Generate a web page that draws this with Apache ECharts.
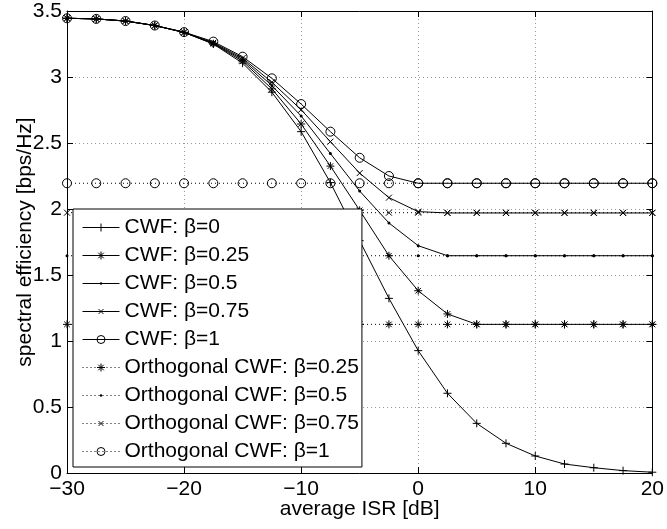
<!DOCTYPE html>
<html>
<head>
<meta charset="utf-8">
<script src="https://cdn.jsdelivr.net/npm/echarts@6/dist/echarts.min.js"></script>
<style>
  html, body { margin: 0; padding: 0; background: #fff; }
  #main { width: 667px; height: 529px; }
</style>
</head>
<body>
<div id="main"></div>
<script>
// average ISR [dB]
const isr = [-30, -27.5, -25, -22.5, -20, -17.5, -15, -12.5, -10, -7.5, -5, -2.5, 0, 2.5, 5, 7.5, 10, 12.5, 15, 17.5, 20]

// CWF curves
const cwf0 = [3.445, 3.44, 3.424, 3.39, 3.338, 3.25, 3.105, 2.885, 2.586, 2.2, 1.76, 1.323, 0.927, 0.604, 0.376, 0.225, 0.129, 0.068, 0.04, 0.018, 0.006]
const cwf25 = [3.445, 3.44, 3.424, 3.39, 3.338, 3.252, 3.12, 2.91, 2.644, 2.325, 1.99, 1.646, 1.381, 1.205, 1.126, 1.126, 1.126, 1.126, 1.126, 1.126, 1.126]
const cwf50 = [3.445, 3.44, 3.424, 3.39, 3.338, 3.255, 3.132, 2.935, 2.705, 2.42, 2.136, 1.894, 1.722, 1.646, 1.646, 1.646, 1.646, 1.646, 1.646, 1.646, 1.646]
const cwf75 = [3.445, 3.44, 3.424, 3.39, 3.338, 3.26, 3.143, 2.96, 2.752, 2.51, 2.272, 2.086, 1.98, 1.97, 1.97, 1.97, 1.97, 1.97, 1.97, 1.97, 1.97]
const cwf100 = [3.445, 3.44, 3.424, 3.39, 3.34, 3.268, 3.154, 2.99, 2.795, 2.586, 2.388, 2.25, 2.195, 2.195, 2.195, 2.195, 2.195, 2.195, 2.195, 2.195, 2.195]

// Orthogonal CWF (flat)
const orth25 = [1.126, 1.126, 1.126, 1.126, 1.126, 1.126, 1.126, 1.126, 1.126, 1.126, 1.126, 1.126, 1.126, 1.126, 1.126, 1.126, 1.126, 1.126, 1.126, 1.126, 1.126]
const orth50 = [1.646, 1.646, 1.646, 1.646, 1.646, 1.646, 1.646, 1.646, 1.646, 1.646, 1.646, 1.646, 1.646, 1.646, 1.646, 1.646, 1.646, 1.646, 1.646, 1.646, 1.646]
const orth75 = [1.972, 1.972, 1.972, 1.972, 1.972, 1.972, 1.972, 1.972, 1.972, 1.972, 1.972, 1.972, 1.972, 1.972, 1.972, 1.972, 1.972, 1.972, 1.972, 1.972, 1.972]
const orth100 = [2.195, 2.195, 2.195, 2.195, 2.195, 2.195, 2.195, 2.195, 2.195, 2.195, 2.195, 2.195, 2.195, 2.195, 2.195, 2.195, 2.195, 2.195, 2.195, 2.195, 2.195]

const names = ['CWF: β=0', 'CWF: β=0.25', 'CWF: β=0.5', 'CWF: β=0.75', 'CWF: β=1',
  'Orthogonal CWF: β=0.25', 'Orthogonal CWF: β=0.5', 'Orthogonal CWF: β=0.75', 'Orthogonal CWF: β=1']

const FONT = 'Liberation Sans, Arial, Helvetica, sans-serif'
const FS = 21

// matlab-like marker shapes, all on a 10x10 box so legend icons keep proportions
const PLUS = 'path://M0,5L10,5M5,0L5,10'
const STAR = 'path://M0,5L10,5M5,0L5,10M1.5,1.5L8.5,8.5M1.5,8.5L8.5,1.5'
const DOT = 'path://M0,0M10,10M6.5,5A1.5,1.5,0,1,1,3.5,5A1.5,1.5,0,1,1,6.5,5Z'
const CROSS = 'path://M0,0M10,10M2,2L8,8M2,8L8,2'
const RING = 'path://M10,5A5,5,0,1,1,0,5A5,5,0,1,1,10,5Z'

const pair = ys => isr.map((x, i) => [x, ys[i]])

function mkSeries (name, ys, symbol, size, dotted) {
  const isDot = symbol === DOT
  return {
    name: name,
    type: 'line',
    data: pair(ys),
    symbol: symbol,
    symbolSize: size,
    showAllSymbol: true,
    clip: false,
    lineStyle: { color: '#000', width: 1, type: dotted ? [1, 3] : 'solid' },
    itemStyle: {
      color: isDot ? '#000' : 'none',
      borderColor: isDot ? 'transparent' : '#000',
      borderWidth: isDot ? 0 : 1
    },
    emphasis: { disabled: true }
  }
}

const series = [
  mkSeries(names[0], cwf0, PLUS, 8, false),
  mkSeries(names[1], cwf25, STAR, 8, false),
  mkSeries(names[2], cwf50, DOT, 10, false),
  mkSeries(names[3], cwf75, CROSS, 10, false),
  mkSeries(names[4], cwf100, RING, 9, false),
  mkSeries(names[5], orth25, STAR, 8, true),
  mkSeries(names[6], orth50, DOT, 10, true),
  mkSeries(names[7], orth75, CROSS, 10, true),
  mkSeries(names[8], orth100, RING, 9, true)
]

const chart = echarts.init(document.getElementById('main'), null, { renderer: 'canvas' })

const gridLine = { show: true, lineStyle: { color: '#999', width: 1, type: [1, 3] } }
const blackLine = { show: true, onZero: false, lineStyle: { color: '#000', width: 1 } }
const inTick = { show: true, inside: true, length: 6, lineStyle: { color: '#000' } }

chart.setOption({
  animation: false,
  backgroundColor: '#fff',
  textStyle: { fontFamily: FONT },
  grid: { left: 67, right: 11, top: 11, bottom: 56, containLabel: false },
  xAxis: [
    {
      type: 'value', min: -30, max: 20, interval: 10, position: 'bottom',
      name: 'average ISR [dB]', nameLocation: 'middle', nameGap: 26, nameMoveOverlap: false,
      nameTextStyle: { color: '#000', fontSize: FS, fontFamily: FONT },
      axisLine: blackLine, axisTick: inTick, splitLine: gridLine,
      axisLabel: {
        color: '#000', fontSize: FS, margin: 6, fontFamily: FONT,
        formatter: v => String(v).replace('-', '\u2212')
      }
    },
    {
      type: 'value', min: -30, max: 20, interval: 10, position: 'top',
      axisLine: blackLine, axisTick: inTick, splitLine: { show: false }, axisLabel: { show: false }
    }
  ],
  yAxis: [
    {
      type: 'value', min: 0, max: 3.5, interval: 0.5, position: 'left',
      name: 'spectral efficiency [bps/Hz]', nameLocation: 'middle', nameGap: 31, nameMoveOverlap: false,
      nameTextStyle: { color: '#000', fontSize: FS, fontFamily: FONT },
      axisLine: blackLine, axisTick: inTick, splitLine: gridLine,
      axisLabel: { color: '#000', fontSize: FS, margin: 5, fontFamily: FONT }
    },
    {
      type: 'value', min: 0, max: 3.5, interval: 0.5, position: 'right',
      axisLine: blackLine, axisTick: inTick, splitLine: { show: false }, axisLabel: { show: false }
    }
  ],
  legend: {
    data: names,
    orient: 'vertical',
    left: 73,
    top: 209,
    itemWidth: 37,
    itemHeight: 10,
    itemGap: 7,
    padding: [8, 3, 5, 9],
    backgroundColor: '#fff',
    borderColor: '#000',
    borderWidth: 1,
    borderRadius: 0,
    selectedMode: false,
    lineStyle: { width: 1 },
    itemStyle: { borderWidth: 1 },
    textStyle: { color: '#000', fontSize: FS, fontFamily: FONT }
  },
  series: series
})
</script>
</body>
</html>
